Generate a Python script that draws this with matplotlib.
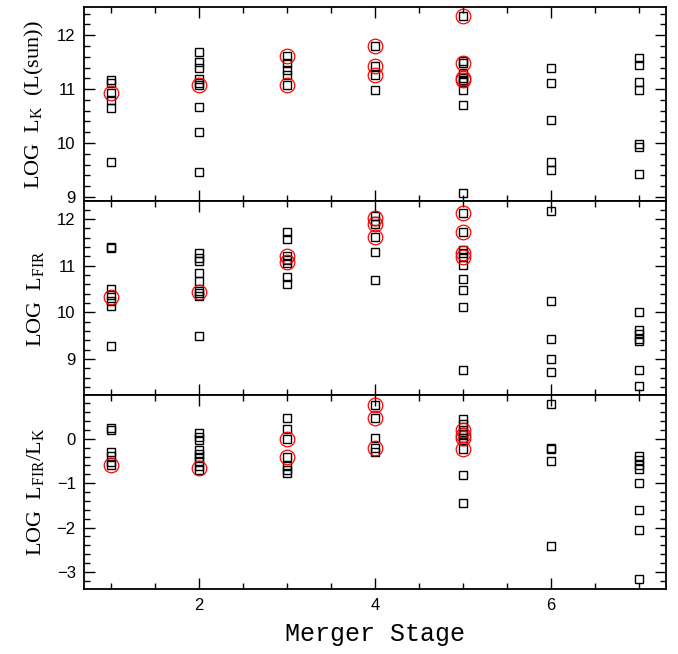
import numpy as np
import matplotlib
matplotlib.use("Agg")
import matplotlib.pyplot as plt
from matplotlib.ticker import MultipleLocator

# merger stage for each galaxy, and which ones get a red circle
stage_k = [1, 1, 1, 1, 1, 1,
           2, 2, 2, 2, 2, 2, 2, 2, 2,
           3, 3, 3, 3, 3,
           4, 4, 4, 4,
           5, 5, 5, 5, 5, 5, 5, 5, 5, 5,
           6, 6, 6, 6, 6,
           7, 7, 7, 7, 7, 7, 7]
log_lk = [11.17, 11.12, 10.93, 10.80, 10.65, 9.65,
          11.68, 11.50, 11.40, 11.19, 11.11, 11.07, 10.67, 10.20, 9.46,
          11.61, 11.48, 11.36, 11.27, 11.07,
          11.80, 11.43, 11.26, 10.99,
          12.36, 11.53, 11.48, 11.30, 11.21, 11.16, 11.14, 10.99, 10.70, 9.07,
          11.39, 11.12, 10.42, 9.64, 9.49,
          11.58, 11.44, 11.13, 10.98, 9.99, 9.93, 9.43]
circ_k_stage = [1, 2, 3, 3, 4, 4, 4, 5, 5, 5, 5]
circ_k = [10.93, 11.08, 11.61, 11.07, 11.80, 11.43, 11.26, 12.36, 11.48, 11.21, 11.16]

stage_fir = [1, 1, 1, 1, 1, 1, 1,
             2, 2, 2, 2, 2, 2, 2, 2, 2,
             3, 3, 3, 3, 3, 3, 3,
             4, 4, 4, 4, 4, 4,
             5, 5, 5, 5, 5, 5, 5, 5, 5, 5,
             6, 6, 6, 6, 6,
             7, 7, 7, 7, 7, 7, 7]
log_lfir = [11.39, 11.37, 10.49, 10.37, 10.25, 10.14, 9.27,
            11.28, 11.16, 11.09, 10.85, 10.66, 10.46, 10.42, 10.34, 9.49,
            11.71, 11.58, 11.21, 11.13, 11.06, 10.75, 10.61,
            12.06, 11.96, 11.89, 11.61, 11.30, 10.69,
            12.13, 11.71, 11.34, 11.27, 11.19, 11.02, 10.72, 10.48, 10.11, 8.77,
            12.18, 10.24, 9.43, 8.99, 8.72,
            10.00, 9.62, 9.54, 9.43, 9.39, 8.77, 8.41]
circ_fir_stage = [1, 2, 3, 3, 4, 4, 4, 5, 5, 5, 5]
circ_fir = [10.33, 10.43, 11.21, 11.07, 12.03, 11.89, 11.61, 12.13, 11.71, 11.27, 11.19]

stage_ratio = [1, 1, 1, 1, 1, 1,
               2, 2, 2, 2, 2, 2, 2, 2, 2,
               3, 3, 3, 3, 3, 3, 3,
               4, 4, 4, 4, 4,
               5, 5, 5, 5, 5, 5, 5, 5, 5, 5,
               6, 6, 6, 6, 6,
               7, 7, 7, 7, 7, 7, 7, 7]
log_ratio = [0.24, 0.20, -0.29, -0.39, -0.52, -0.60,
             0.13, 0.04, -0.02, -0.26, -0.34, -0.41, -0.50, -0.62, -0.70,
             0.46, 0.22, 0.00, -0.41, -0.62, -0.70, -0.77,
             0.75, 0.46, 0.02, -0.20, -0.29,
             0.45, 0.34, 0.20, 0.11, 0.08, 0.02, -0.02, -0.22, -0.82, -1.44,
             0.79, -0.20, -0.24, -0.51, -2.42,
             -0.38, -0.49, -0.60, -0.69, -1.00, -1.61, -2.05, -3.17]
circ_ratio_stage = [1, 2, 3, 3, 4, 4, 4, 5, 5, 5, 5]
circ_ratio = [-0.60, -0.67, 0.00, -0.41, 0.75, 0.46, -0.20, 0.20, 0.08, 0.02, -0.22]

serif = "Liberation Serif"
plt.rcParams["font.family"] = "Liberation Sans"
plt.rcParams["mathtext.fontset"] = "custom"
plt.rcParams["mathtext.rm"] = serif
plt.rcParams["mathtext.it"] = serif + ":italic"

fig, axes = plt.subplots(3, 1, figsize=(6.78, 6.54), dpi=100, sharex=True)
fig.subplots_adjust(left=0.124, right=0.982, top=0.989, bottom=0.099, hspace=0)

panels = [
    (stage_k, log_lk, circ_k_stage, circ_k, (8.92, 12.52), r"LOG  L$_{\rm K}$  (L(sun))"),
    (stage_fir, log_lfir, circ_fir_stage, circ_fir, (8.22, 12.38), r"LOG  L$_{\rm FIR}$"),
    (stage_ratio, log_ratio, circ_ratio_stage, circ_ratio, (-3.39, 0.98), r"LOG  L$_{\rm FIR}$/L$_{\rm K}$"),
]

for ax, (xs, ys, cx, cy, ylim, lab) in zip(axes, panels):
    ax.plot(xs, ys, ls="none", marker="s", ms=5.5, mfc="none", mec="black", mew=1.0)
    ax.plot(cx, cy, ls="none", marker="o", ms=10.5, mfc="none", mec="red", mew=0.9)
    ax.set_xlim(0.7, 7.3)
    ax.set_ylim(*ylim)
    ax.xaxis.set_major_locator(MultipleLocator(2))
    ax.xaxis.set_minor_locator(MultipleLocator(0.5))
    ax.yaxis.set_major_locator(MultipleLocator(1))
    ax.yaxis.set_minor_locator(MultipleLocator(0.2))
    ax.tick_params(which="both", direction="in", top=True, right=True, labelsize=12, width=1.0)
    ax.tick_params(which="major", length=8, pad=6)
    ax.tick_params(which="minor", length=4)
    for sp in ax.spines.values():
        sp.set_linewidth(1.3)
    ax.set_ylabel(lab, fontsize=16, family=serif)
    ax.yaxis.set_label_coords(-0.065, 0.5)

axes[2].set_xlabel("Merger Stage", fontsize=18, family="Liberation Mono", labelpad=7)

fig.savefig("out.png", dpi=100)
